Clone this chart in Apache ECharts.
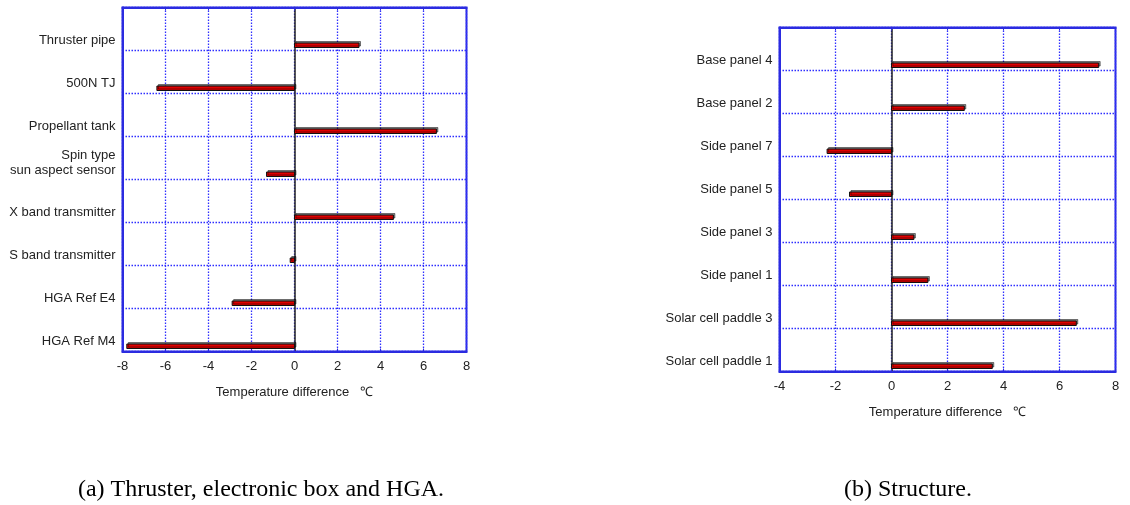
<!DOCTYPE html>
<html><head><meta charset="utf-8">
<script src="https://cdn.jsdelivr.net/npm/echarts@6/dist/echarts.min.js"></script>
<style>html,body{margin:0;padding:0;background:#fff}#c{width:1130px;height:505px}</style>
</head><body><div id="c"></div>
<script>
const leftCategories = ['Thruster pipe', '500N TJ', 'Propellant tank', 'Spin type\nsun aspect sensor', 'X band transmitter', 'S band transmitter', 'HGA Ref E4', 'HGA Ref M4'];
const leftValues = [3.0, -6.4, 6.6, -1.3, 4.6, -0.2, -2.9, -7.8];
const rightCategories = ['Base panel 4', 'Base panel 2', 'Side panel 7', 'Side panel 5', 'Side panel 3', 'Side panel 1', 'Solar cell paddle 3', 'Solar cell paddle 1'];
const rightValues = [7.4, 2.6, -2.3, -1.5, 0.8, 1.3, 6.6, 3.6];
const leftTicks = [-8, -6, -4, -2, 0, 2, 4, 6, 8];
const rightTicks = [-4, -2, 0, 2, 4, 6, 8];
const axisTitle = 'Temperature difference   \u2103';
const captionA = '(a) Thruster, electronic box and HGA.';
const captionB = '(b) Structure.';

const BLUE = '#2b2be0';
const GRIDBLUE = '#2f2fff';
const TXT = '#222';
const FONT = '"Liberation Sans", Arial, sans-serif';

function renderBar(params, api) {
  const v = api.value(0), c = api.value(1);
  const p0 = api.coord([0, c]);
  const p1 = api.coord([v, c]);
  const band = Math.abs(api.size([0, 1])[1]);
  const barH = 4.5, gapBelow = 3;
  const yb = p0[1] + band / 2 - gapBelow;
  return {
    type: 'rect',
    shape: { x: Math.min(p0[0], p1[0]), y: yb - barH, width: Math.abs(p1[0] - p0[0]), height: barH },
    style: { fill: '#e00000', stroke: '#111', lineWidth: 1, shadowColor: 'rgba(0,0,0,0.45)', shadowOffsetX: 1.5, shadowOffsetY: -1.5, shadowBlur: 0 }
  };
}

function labelFormatter(value) {
  const lines = value.split('\n');
  if (lines.length === 1) return '{s|' + value + '}';
  return lines.map(ln => '{m|' + ln + '}').join('\n');
}
const labelRich = {
  s: { padding: [22, 0, 0, 0], lineHeight: 15, fontSize: 13, color: TXT, fontFamily: FONT, align: 'right' },
  m: { padding: [10, 0, 0, 0], lineHeight: 15, fontSize: 13, color: TXT, fontFamily: FONT, align: 'right' }
};

const gridLineStyle = { color: GRIDBLUE, type: [1.5, 1.5], width: 1.3 };

function makeAxes(gi, ticks, cats) {
  const min = ticks[0], max = ticks[ticks.length - 1], interval = ticks[1] - ticks[0];
  const xa = [{
    gridIndex: gi, type: 'value', min, max, interval, position: 'bottom',
    axisLine: { show: true, onZero: false, lineStyle: { color: BLUE, width: 2 } },
    axisTick: { show: true, inside: true, length: 3, lineStyle: { color: BLUE } },
    axisLabel: { color: TXT, fontSize: 13, margin: 8, fontFamily: FONT },
    splitLine: { show: true, lineStyle: gridLineStyle },
    name: axisTitle, nameLocation: 'middle', nameGap: 34,
    nameTextStyle: { color: TXT, fontSize: 13, fontFamily: FONT }
  }, {
    gridIndex: gi, type: 'value', min, max, interval, position: 'top',
    axisLine: { show: true, onZero: false, lineStyle: { color: BLUE, width: 2 } },
    axisTick: { show: true, inside: true, length: 3, lineStyle: { color: BLUE } },
    axisLabel: { show: false }, splitLine: { show: false }
  }];
  const ya = [{
    gridIndex: gi, type: 'category', inverse: true, data: cats,
    axisLine: { show: true, onZero: false, lineStyle: { color: BLUE, width: 2 } },
    axisTick: { show: false },
    axisLabel: { interval: 0, color: TXT, fontSize: 13, margin: 7, fontFamily: FONT, formatter: labelFormatter, rich: labelRich },
    splitLine: { show: true, interval: 0, lineStyle: gridLineStyle }
  }, {
    gridIndex: gi, type: 'category', inverse: true, data: cats, position: 'left',
    axisLine: { show: true, onZero: true, lineStyle: { color: '#222', width: 1.5 } },
    axisTick: { show: false }, axisLabel: { show: false }, splitLine: { show: false }
  }];
  return { xa, ya };
}

const L = makeAxes(0, leftTicks, leftCategories);
const R = makeAxes(1, rightTicks, rightCategories);

const chart = echarts.init(document.getElementById('c'), null, { renderer: 'canvas' });
chart.setOption({
  animation: false,
  backgroundColor: '#fff',
  grid: [
    { left: 122.5, right: 1130 - 466.5, top: 7.5, bottom: 505 - 351.5, show: true, borderColor: BLUE, borderWidth: 2 },
    { left: 779.5, right: 1130 - 1115.5, top: 27.5, bottom: 505 - 371.5, show: true, borderColor: BLUE, borderWidth: 2 }
  ],
  xAxis: L.xa.concat(R.xa),
  yAxis: L.ya.concat(R.ya),
  series: [
    { type: 'custom', xAxisIndex: 0, yAxisIndex: 0, renderItem: renderBar, encode: { x: 0, y: 1 }, z: 10,
      data: leftValues.map((v, i) => [v, i]) },
    { type: 'custom', xAxisIndex: 2, yAxisIndex: 2, renderItem: renderBar, encode: { x: 0, y: 1 }, z: 10,
      data: rightValues.map((v, i) => [v, i]) }
  ],
  graphic: [
    { type: 'text', x: 261, y: 490, style: { text: captionA, font: '24px "Liberation Serif", "Times New Roman", serif', fill: '#000', align: 'center', verticalAlign: 'middle' } },
    { type: 'text', x: 908, y: 490, style: { text: captionB, font: '24px "Liberation Serif", "Times New Roman", serif', fill: '#000', align: 'center', verticalAlign: 'middle' } }
  ]
});
</script>
</body></html>
